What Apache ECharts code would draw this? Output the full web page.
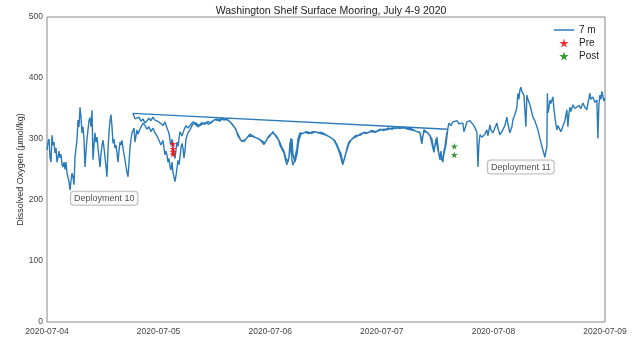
<!DOCTYPE html>
<html>
<head>
<meta charset="utf-8">
<script src="https://cdn.jsdelivr.net/npm/echarts@6/dist/echarts.min.js"></script>
<style>html,body{margin:0;padding:0;background:#fff}#c{width:640px;height:345px}</style>
</head>
<body>
<div id="c"></div>
<script>
// Hours since 2020-07-04 00:00 and dissolved oxygen (umol/kg), 7 m sensor
var d10Hours = [0.00,0.22,0.43,0.65,0.86,1.08,1.29,1.51,1.72,1.94,2.15,2.37,2.58,2.80,3.01,3.23,3.44,3.66,3.87,4.09,4.30,4.52,4.73,4.95,5.16,5.38,5.59,5.81,6.02,6.24,6.45,6.67,6.88,7.10,7.31,7.53,7.74,7.96,8.17,8.39,8.60,8.82,9.03,9.25,9.46,9.68,9.89,10.11,10.32,10.54,10.75,10.97,11.18,11.40,11.61,11.83,12.04,12.26,12.47,12.69,12.90,13.12,13.33,13.55,13.76,13.98,14.19,14.41,14.62,14.84,15.05,15.27,15.48,15.70,15.91,16.13,16.34,16.56,16.77,16.99,17.20,17.42,17.63,17.85,18.06,18.28,18.49,
18.71,18.92,19.14,19.35,19.57,19.78,20.00,20.21,20.43,20.64,21.07,21.50,21.93,22.36,22.79,23.22,23.65,24.08,24.51,24.94,25.16,25.37,25.59,25.80,26.02,26.23,26.45,26.66,26.88,27.09,27.31,27.52,27.74,27.95,28.17,28.38,28.60,28.81,29.03,29.24,29.46,29.67,29.89,30.32,30.75,31.18,31.61,32.04,32.47,32.90,33.54,34.19,34.83,35.48,36.12,36.77,37.41,38.06,38.70,39.35,39.99,40.64,41.07,41.50,41.93,42.36,42.79,43.22,43.65,44.29,44.94,45.58,46.23,46.66,47.09,47.52,47.95,48.59,49.24,49.67,50.10,50.53,50.96,51.17,51.39,51.60,51.82,52.03,52.25,52.46,52.68,52.89,53.11,53.32,53.54,53.75,53.97,54.40,55.04,55.69,56.33,56.98,57.62,58.27,58.91,59.56,60.20,60.85,61.49,61.92,62.35,62.78,63.00,63.21,63.43,63.64,63.86,64.07,64.50,64.93,65.36,66.01,66.65,67.30,67.94,68.59,69.23,69.88,70.52,71.17,71.81,72.46,73.10,73.75,74.39,75.04,75.68,76.33,76.97,77.62,78.26,78.91,79.55,80.20,80.41,80.63,80.84,81.06,81.49,81.92,82.35,82.78,82.99,83.21,83.42,83.64,83.85,84.07,84.28,84.50,84.71,84.93,85.14,85.36,85.57,85.79,86.00,86.22];
var d10Oxygen = [282,295,300,270,262,306,290,295,277,285,262,270,280,269,275,258,254,262,250,262,244,246,230,216,232,244,238,225,270,285,298,331,320,352,335,310,320,300,254,280,300,315,330,335,320,347,266,290,310,295,303,285,270,254,275,290,298,285,270,255,238,282,310,330,340,320,293,300,285,290,277,262,280,295,290,298,285,275,266,255,245,238,260,285,300,310,312,
318,295,305,315,308,312,311,320,318,326,322,316,320,312,318,310,305,298,290,298,285,274,280,274,262,268,255,249,262,245,238,230,240,252,265,258,270,285,293,285,269,280,300,310,315,322,326,324,320,323,325,327,324,329,332,330,334,331,333,328,322,316,305,300,296,293,300,304,306,305,302,300,295,291,296,303,307,310,306,301,290,283,277,270,262,258,255,270,292,301,265,257,262,270,277,285,300,310,309,312,311,309,312,310,311,309,306,303,300,295,288,280,275,269,262,258,265,272,282,292,298,302,304,308,310,309,311,312,311,313,315,316,315,317,318,317,319,318,318,316,315,314,312,311,300,292,305,315,313,310,308,300,290,282,285,295,303,290,275,266,280,270,262,280,287,300,310,316];
var d11Hours = [18.49,18.92,19.35,19.78,20.21,20.64,21.07,21.50,21.93,22.36,22.79,23.22,23.65,24.08,24.51,24.94,25.37,25.80,26.23,26.45,26.66,26.88,27.09,27.31,27.52,27.74,27.95,28.17,28.38,28.60,29.03,29.46,29.89,30.32,30.75,31.39,32.04,32.68,33.33,33.97,34.62,35.26,35.91,36.55,37.20,37.84,38.49,39.13,39.78,40.42,41.07,41.71,42.36,43.00,43.65,44.51,45.37,46.23,46.87,47.30,47.95,48.59,49.24,49.88,50.53,50.96,51.39,51.82,52.25,52.68,52.89,53.32,53.75,54.18,54.61,55.47,56.33,57.19,58.05,58.91,59.77,60.63,61.28,61.92,62.35,62.78,63.21,63.43,63.64,64.07,64.50,64.93,65.58,66.44,67.30,68.16,69.02,69.88,70.74,71.60,72.46,73.32,74.18,75.04,75.90,76.76,77.62,78.48,79.34,80.20,80.63,81.06,81.70,82.35,82.78,83.21,83.64,84.07,84.50,84.93,85.36,85.79,86.22,
86.43,86.86,87.29,87.72,88.15,88.58,89.01,89.44,89.66,89.87,90.09,90.30,90.73,90.95,91.38,91.81,92.02,92.24,92.45,92.67,92.88,93.10,93.53,93.74,94.17,94.60,94.82,95.25,95.46,95.89,96.32,96.75,96.97,97.40,97.83,98.04,98.47,98.90,99.12,99.55,99.98,100.19,100.62,101.05,101.27,101.48,101.70,101.91,102.13,102.34,102.56,102.77,102.99,103.20,103.42,103.85,104.06,104.49,104.92,105.35,105.57,106.00,106.21,106.64,106.86,107.07,107.29,107.50,107.61,107.72,107.93,108.15,108.36,108.79,109.01,109.22,109.44,109.65,109.87,110.30,110.51,110.94,111.37,111.80,112.02,112.23,112.45,112.66,113.09,113.52,113.95,114.38,114.81,115.24,115.67,116.10,116.32,116.75,116.96,117.39,117.82,118.25,118.47,118.68,118.90,119.11,119.33,119.54,119.76,119.97];
var d11Oxygen = [342,333,331,336,329,333,326,328,334,330,336,331,334,328,331,322,328,318,310,298,290,300,285,275,268,282,295,288,300,312,305,315,322,318,320,328,326,322,327,324,329,326,331,333,329,335,332,330,325,318,308,298,296,302,308,303,301,297,293,300,305,312,304,298,286,280,268,262,278,300,275,262,275,298,308,311,309,312,311,309,307,304,301,297,291,283,276,268,261,270,285,295,300,306,306,311,310,314,312,316,314,318,316,319,317,320,318,316,313,310,298,312,311,306,292,278,300,282,270,265,275,290,318,
326,322,328,327,330,325,328,326,312,310,322,328,331,330,326,322,323,315,311,254,290,307,303,301,308,315,305,323,315,310,318,326,318,307,312,315,322,336,325,310,320,331,340,352,375,365,380,385,378,381,372,375,320,372,365,356,350,336,330,320,315,301,295,282,276,270,280,287,375,343,350,364,358,369,350,336,325,315,322,320,312,315,330,348,320,340,352,345,356,350,352,355,350,359,352,348,358,375,365,369,360,364,301,355,372,365,378,380,362,367];
// Calibration casts
var preHours = [27.1, 27.1, 27.1, 27.1];
var preOxygen = [292, 284, 279, 275];
var postHours = [87.6, 87.6];
var postOxygen = [288, 274];
// Annotations
var labelNames = ['Deployment 10', 'Deployment 11'];
var labelHours = [12.3, 101.9];
var labelOxygen = [203, 254];
var xTickLabels = ['2020-07-04','2020-07-05','2020-07-06','2020-07-07','2020-07-08','2020-07-09'];

function pairs(xs, ys){ return xs.map(function(x,i){ return [x, ys[i]]; }); }
var lineData = pairs(d10Hours, d10Oxygen).concat(pairs(d11Hours, d11Oxygen));
var star = 'path://M50,0 L61,35 L98,35 L68,57 L79,91 L50,70 L21,91 L32,57 L2,35 L39,35 Z';
var lineIcon = 'path://M0,0 L40,0 L40,3 L0,3 Z';
var FONT = '"Liberation Sans", Arial, sans-serif';

var chart = echarts.init(document.getElementById('c'), null, {renderer: 'canvas'});
chart.setOption({
  animation: false,
  backgroundColor: '#fff',
  textStyle: {fontFamily: FONT},
  title: {
    text: 'Washington Shelf Surface Mooring, July 4-9 2020',
    left: 326, textAlign: 'center', top: 1,
    textStyle: {fontSize: 10.5, fontWeight: 'normal', color: '#222', fontFamily: FONT}
  },
  legend: {
    orient: 'vertical', left: 549, top: 20, itemGap: 3,
    itemWidth: 20, itemHeight: 9,
    textStyle: {fontSize: 10, color: '#222', fontFamily: FONT},
    data: [{name: '7 m', icon: lineIcon}, {name: 'Pre', icon: star}, {name: 'Post', icon: star}]
  },
  grid: {left: 47, right: 35, top: 17, bottom: 23, show: true, borderColor: '#888', borderWidth: 1},
  xAxis: {
    type: 'value', min: 0, max: 120, interval: 24,
    axisLine: {show: false}, axisTick: {show: false}, splitLine: {show: false},
    axisLabel: {fontSize: 8.5, color: '#444', margin: 5, fontFamily: FONT,
      formatter: function(v){ return xTickLabels[Math.round(v/24)]; }}
  },
  yAxis: {
    type: 'value', min: 0, max: 500, interval: 100,
    name: 'Dissolved Oxygen (μmol/kg)', nameLocation: 'middle', nameGap: 22, nameMoveOverlap: false,
    nameTextStyle: {fontSize: 9, color: '#333', fontFamily: FONT},
    axisLine: {show: false}, axisTick: {show: false}, splitLine: {show: false},
    axisLabel: {fontSize: 8.5, color: '#444', margin: 4, fontFamily: FONT}
  },
  series: [
    {name: '7 m', type: 'line', data: lineData, symbol: 'none', showSymbol: false,
     lineStyle: {color: '#2b7bba', width: 1.4}, itemStyle: {color: '#2b7bba'}, z: 2},
    {name: 'Pre', type: 'scatter', data: pairs(preHours, preOxygen), symbol: star, symbolSize: 7,
     symbolKeepAspect: true, itemStyle: {color: '#ff0000'}, z: 3},
    {name: 'Post', type: 'scatter', data: pairs(postHours, postOxygen), symbol: star, symbolSize: 7,
     symbolKeepAspect: true, itemStyle: {color: '#008000'}, z: 3},
    {name: 'labels', type: 'scatter', symbolSize: 0, silent: true, z: 4,
     data: labelNames.map(function(n,i){ return {name: n, value: [labelHours[i], labelOxygen[i]]}; }),
     label: {show: true, position: 'inside', formatter: '{b}', fontSize: 9, color: '#222',
       backgroundColor: '#fff', borderColor: '#aaa', borderWidth: 1, borderRadius: 3,
       padding: [2, 3, 2, 3], fontFamily: FONT}}
  ]
});
</script>
</body>
</html>
